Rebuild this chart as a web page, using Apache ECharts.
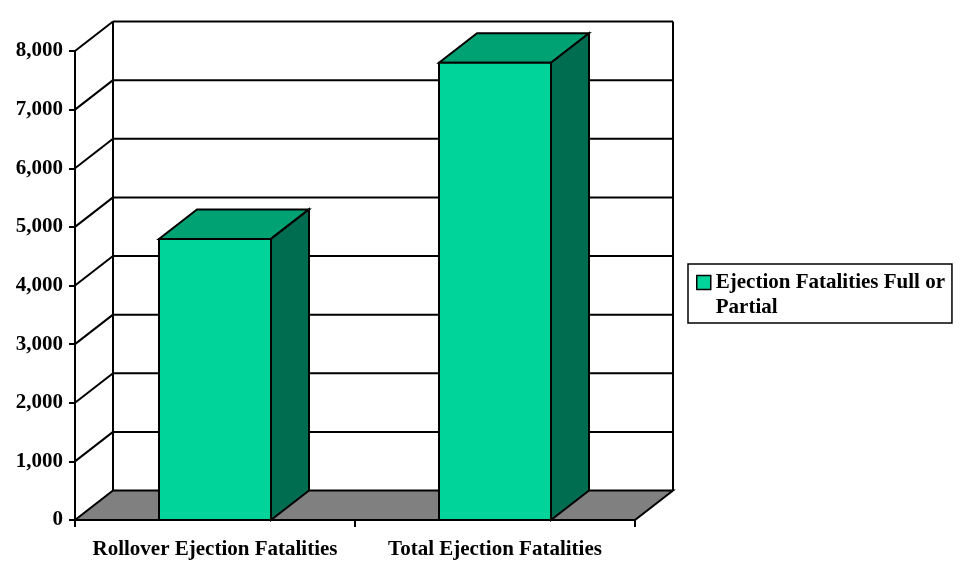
<!DOCTYPE html>
<html>
<head>
<meta charset="utf-8">
<script src="https://cdn.jsdelivr.net/npm/echarts@6/dist/echarts.min.js"></script>
<style>html,body{margin:0;padding:0;background:#fff;}#chart{width:966px;height:577px;}</style>
</head>
<body>
<div id="chart"></div>
<script>
const categories = ['Rollover Ejection Fatalities', 'Total Ejection Fatalities'];
const fatalities = [4795, 7800];
const seriesName = 'Ejection Fatalities Full or Partial';
const yTickValues = [0, 1000, 2000, 3000, 4000, 5000, 6000, 7000, 8000];

const DX = 38, DY = -29.5;
const FONT = 'Liberation Serif, Times New Roman, serif';
const LINE = { stroke: '#000', lineWidth: 2 };

function fmt(v) { return String(v).replace(/\B(?=(\d{3})+(?!\d))/g, ','); }

const chart = echarts.init(document.getElementById('chart'));

function renderFrame(params, api) {
  const cs = params.coordSys;
  const x0 = cs.x, x1 = cs.x + cs.width;
  const y0 = api.coord([0, 0])[1];
  const yTop = api.coord([0, yTickValues[yTickValues.length - 1]])[1];
  const children = [];
  children.push({ type: 'polygon', shape: { points: [[x0, y0], [x0 + DX, y0 + DY], [x1 + DX, y0 + DY], [x1, y0]] },
    style: Object.assign({ fill: '#808080', lineJoin: 'miter' }, LINE) });
  yTickValues.forEach(v => {
    if (v === 0) return;
    const y = api.coord([0, v])[1];
    children.push({ type: 'line', shape: { x1: x0 + DX, y1: y + DY, x2: x1 + DX, y2: y + DY }, style: LINE });
    children.push({ type: 'line', shape: { x1: x0, y1: y, x2: x0 + DX, y2: y + DY }, style: LINE });
  });
  children.push({ type: 'line', shape: { x1: x0 + DX, y1: y0 + DY, x2: x0 + DX, y2: yTop + DY }, style: LINE });
  children.push({ type: 'line', shape: { x1: x1 + DX, y1: y0 + DY, x2: x1 + DX, y2: yTop + DY }, style: LINE });
  return { type: 'group', children: children };
}

function renderBar(params, api) {
  const idx = api.value(0);
  const x = api.coord([idx, 0])[0];
  const yB = api.coord([idx, 0])[1];
  const yT = api.coord([idx, api.value(1)])[1];
  const bw = api.size([1, 0])[0] * 0.4;
  const l = x - bw / 2, r = x + bw / 2;
  const st = (fill) => Object.assign({ fill: fill, lineJoin: 'miter' }, LINE);
  return { type: 'group', children: [
    { type: 'polygon', shape: { points: [[l, yT], [r, yT], [r + DX, yT + DY], [l + DX, yT + DY]] }, style: st('#00A273') },
    { type: 'polygon', shape: { points: [[r, yT], [r + DX, yT + DY], [r + DX, yB + DY], [r, yB]] }, style: st('#006C50') },
    { type: 'rect', shape: { x: l, y: yT, width: bw, height: yB - yT }, style: st('#00D49B') }
  ]};
}

chart.setOption({
  animation: false,
  backgroundColor: '#fff',
  grid: { left: 75, right: 331, top: 51, bottom: 57, containLabel: false },
  legend: {
    data: [{ name: seriesName,
      icon: 'path://M0,0L14,0L14,14L0,14Z M0,39',
      itemStyle: { color: '#00D49B', borderColor: '#000', borderWidth: 1.5 } }],
    left: 688, top: 264,
    orient: 'vertical',
    itemWidth: 14, itemHeight: 39,
    padding: [6, 7, 3, 8],
    borderColor: '#000', borderWidth: 1.5, backgroundColor: '#fff',
    formatter: name => name.replace(' Partial', '\nPartial'),
    textStyle: { fontFamily: FONT, fontWeight: 'bold', fontSize: 21, lineHeight: 25, color: '#000' },
    selectedMode: false
  },
  xAxis: {
    type: 'category', data: categories,
    axisLine: { lineStyle: { color: '#000', width: 2 } },
    axisTick: { show: true, length: 7, lineStyle: { color: '#000', width: 2 } },
    axisLabel: { interval: 0, margin: 19, fontFamily: FONT, fontWeight: 'bold', fontSize: 21, color: '#000' },
    splitLine: { show: false }
  },
  yAxis: {
    type: 'value', min: 0, max: 8000, interval: 1000,
    axisLine: { show: true, lineStyle: { color: '#000', width: 2 } },
    axisTick: { show: true, length: 6, lineStyle: { color: '#000', width: 2 } },
    axisLabel: { margin: 12, formatter: fmt, fontFamily: FONT, fontWeight: 'bold', fontSize: 21, color: '#000' },
    splitLine: { show: false }
  },
  series: [
    { type: 'custom', name: 'frame', renderItem: renderFrame, data: [[0, 0]], z: 1, silent: true,
      encode: { x: 0, y: 1 } },
    { type: 'custom', name: seriesName, renderItem: renderBar, z: 2,
      itemStyle: { color: '#00D49B' },
      data: fatalities.map((v, i) => [i, v]), encode: { x: 0, y: 1 } }
  ]
});
</script>
</body>
</html>
